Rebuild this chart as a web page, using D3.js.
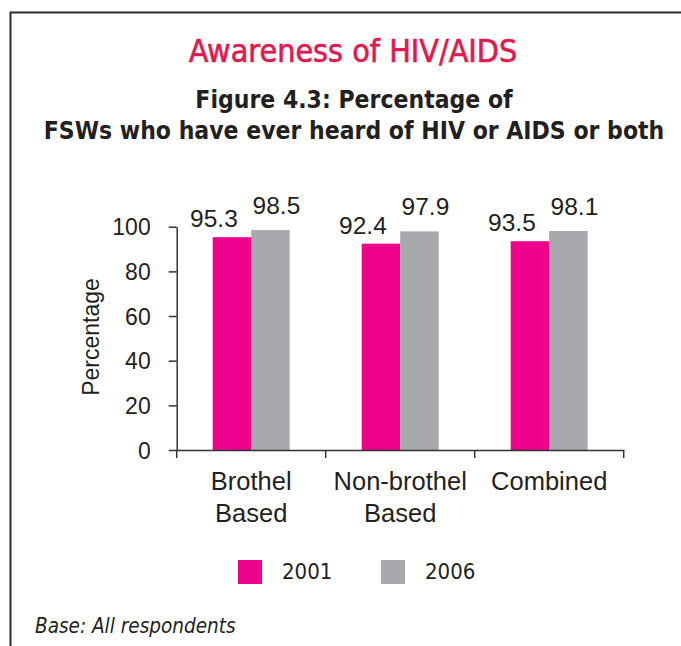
<!DOCTYPE html>
<html>
<head>
<meta charset="utf-8">
<script src="https://cdn.jsdelivr.net/npm/d3@7"></script>
<style>
	body { margin: 0; background: #fff; }
	svg { display: block; }
</style>
</head>
<body>
<script>
(function() {

	// data
	var categories = [["Brothel", "Based"], ["Non-brothel", "Based"], ["Combined"]];
	var seriesNames = ["2001", "2006"];
	var values2001 = [95.3, 92.4, 93.5];
	var values2006 = [98.5, 97.9, 98.1];
	var yTicks = [0, 20, 40, 60, 80, 100];

	var W = 681, H = 646;
	var colors = { "2001": "#ec008c", "2006": "#a7a9ac" };
	var textColor = "#231f20";
	var humanist = "'DejaVu Sans Condensed', 'DejaVu Sans', sans-serif";
	var arial = "'Liberation Sans', Arial, sans-serif";

	var svg = d3.select("body")
		.append("svg")
		.attr("width", W)
		.attr("height", H);

	// frame: top and left rule
	svg.append("path")
		.attr("d", "M10.5,646V12.5H681")
		.attr("fill", "none")
		.attr("stroke", "#2b2b2b")
		.attr("stroke-width", 2);

	// titles
	svg.append("text")
		.attr("x", 353)
		.attr("y", 62)
		.attr("text-anchor", "middle")
		.style("font-family", humanist)
		.style("font-size", "32px")
		.style("fill", "#e2184f")
		.style("stroke", "#e2184f")
		.style("stroke-width", 0.6)
		.text("Awareness of HIV/AIDS");

	var sub = svg.append("text")
		.attr("text-anchor", "middle")
		.style("font-family", humanist)
		.style("font-size", "24.5px")
		.style("font-weight", "bold")
		.style("fill", textColor);
	sub.append("tspan").attr("x", 354).attr("y", 108).text("Figure 4.3: Percentage of");
	sub.append("tspan").attr("x", 354).attr("y", 139).text("FSWs who have ever heard of HIV or AIDS or both");

	// plot area
	var left = 176.7, right = 623.7, top = 226.7, bottom = 450;

	var data = categories.map(function(c, i) {
		return {
			name: c.join(" "),
			lines: c,
			bars: [
				{ series: "2001", value: values2001[i] },
				{ series: "2006", value: values2006[i] }
			]
		};
	});

	var x0 = d3.scaleBand()
		.domain(data.map(function(d) { return d.name; }))
		.range([left, right])
		.padding(0);

	var x1 = d3.scaleBand()
		.domain(seriesNames)
		.range([0, x0.bandwidth()])
		.paddingInner(0)
		.paddingOuter(0.935);

	var y = d3.scaleLinear()
		.domain([0, 100])
		.range([bottom, top]);

	// y axis
	var yAxisG = svg.append("g")
		.attr("transform", "translate(" + left + ",0)")
		.call(d3.axisLeft(y).tickValues(yTicks).tickSize(8).tickSizeOuter(0).tickPadding(18));
	yAxisG.select(".domain").attr("stroke", "#333").attr("stroke-width", 1.5);
	yAxisG.selectAll(".tick line").attr("stroke", "#333").attr("stroke-width", 1.5);
	yAxisG.selectAll(".tick text")
		.style("font-family", arial)
		.style("font-size", "23px")
		.style("fill", textColor)
		.attr("dy", "0.36em");

	svg.append("text")
		.attr("transform", "translate(99,337) rotate(-90)")
		.attr("text-anchor", "middle")
		.style("font-family", arial)
		.style("font-size", "23px")
		.style("fill", textColor)
		.text("Percentage");

	// bars
	var group = svg.selectAll(".cat")
		.data(data)
		.enter().append("g")
		.attr("class", "cat")
		.attr("transform", function(d) { return "translate(" + x0(d.name) + ",0)"; });

	group.selectAll("rect")
		.data(function(d) { return d.bars; })
		.enter().append("rect")
		.attr("x", function(d) { return x1(d.series); })
		.attr("y", function(d) { return y(d.value); })
		.attr("width", x1.bandwidth())
		.attr("height", function(d) { return bottom - y(d.value); })
		.style("fill", function(d) { return colors[d.series]; });

	// value labels (nudged like the original)
	var labelShift = { "2001": [-18, -10], "2006": [6, -16] };
	group.selectAll(".val")
		.data(function(d) { return d.bars; })
		.enter().append("text")
		.attr("class", "val")
		.attr("x", function(d) { return x1(d.series) + x1.bandwidth() / 2 + labelShift[d.series][0]; })
		.attr("y", function(d) { return y(d.value) + labelShift[d.series][1]; })
		.attr("text-anchor", "middle")
		.style("font-family", arial)
		.style("font-size", "24.5px")
		.style("fill", textColor)
		.text(function(d) { return d.value.toFixed(1); });

	// x axis: baseline with ticks at band edges
	var xAxisG = svg.append("g")
		.attr("transform", "translate(0," + bottom + ")")
		.call(d3.axisBottom(x0).tickSize(0).tickSizeOuter(0).tickFormat(""));
	xAxisG.select(".domain").attr("stroke", "#333").attr("stroke-width", 1.5);

	var edges = x0.domain().map(function(d) { return x0(d); }).concat([right]);
	xAxisG.selectAll(".edge")
		.data(edges)
		.enter().append("line")
		.attr("class", "edge")
		.attr("x1", function(d) { return d; })
		.attr("x2", function(d) { return d; })
		.attr("y1", 0)
		.attr("y2", 8)
		.attr("stroke", "#333")
		.attr("stroke-width", 1.5);

	var catText = svg.selectAll(".catlabel")
		.data(data)
		.enter().append("text")
		.attr("class", "catlabel")
		.attr("text-anchor", "middle")
		.style("font-family", arial)
		.style("font-size", "25.5px")
		.style("fill", textColor);
	catText.selectAll("tspan")
		.data(function(d) { return d.lines.map(function(l) { return { text: l, x: x0(d.name) + x0.bandwidth() / 2 }; }); })
		.enter().append("tspan")
		.attr("x", function(d) { return d.x; })
		.attr("y", function(d, i) { return bottom + 40 + i * 31.5; })
		.text(function(d) { return d.text; });

	// legend
	var legend = svg.selectAll(".legend")
		.data(seriesNames)
		.enter().append("g")
		.attr("class", "legend")
		.attr("transform", function(d, i) { return "translate(" + (238 + i * 143) + ",560)"; });

	legend.append("rect")
		.attr("width", 24)
		.attr("height", 24)
		.style("fill", function(d) { return colors[d]; });

	legend.append("text")
		.attr("x", 44)
		.attr("y", 19)
		.style("font-family", humanist)
		.style("font-size", "22px")
		.style("fill", textColor)
		.text(function(d) { return d; });

	// footnote
	svg.append("text")
		.attr("x", 35)
		.attr("y", 633)
		.style("font-family", humanist)
		.style("font-size", "20.5px")
		.style("font-style", "italic")
		.style("fill", textColor)
		.text("Base: All respondents");

})();
</script>
</body>
</html>
